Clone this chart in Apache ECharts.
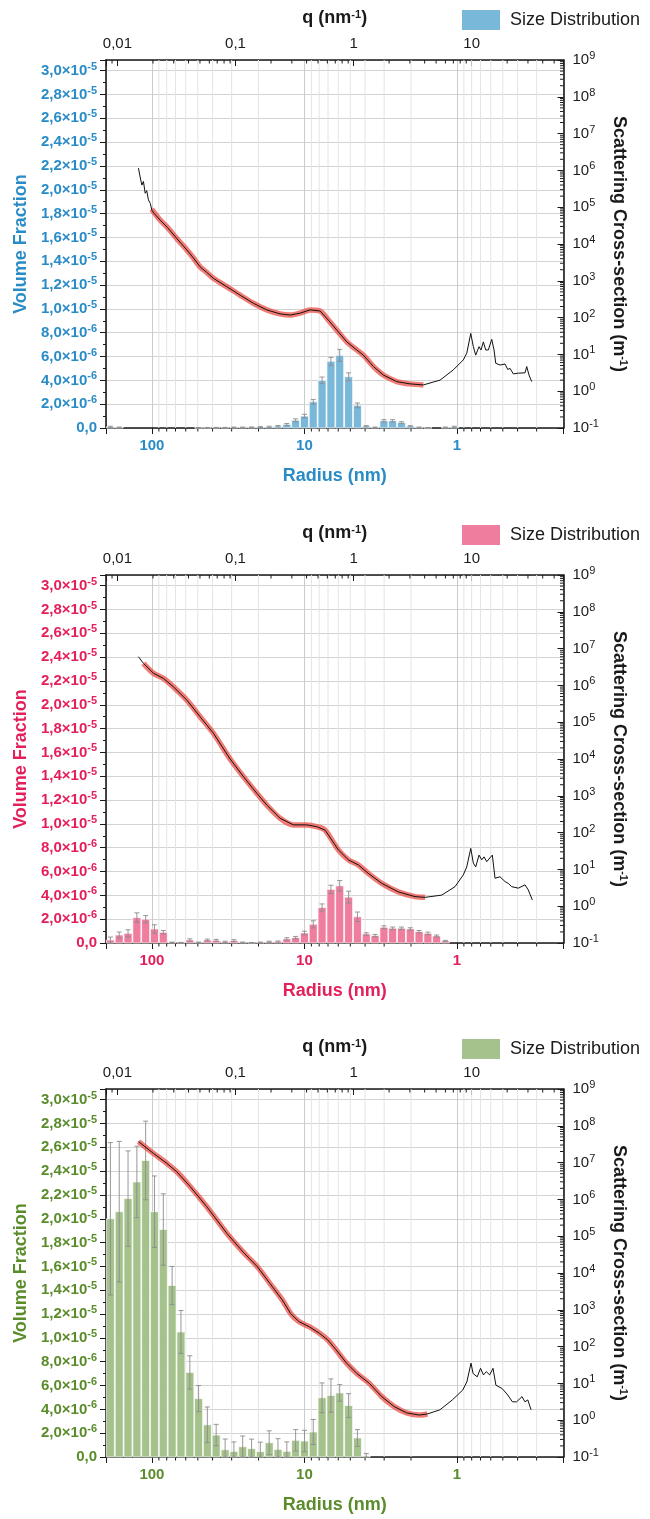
<!DOCTYPE html>
<html><head><meta charset="utf-8">
<script src="https://cdn.jsdelivr.net/npm/echarts@6/dist/echarts.min.js"></script>
<style>html,body{margin:0;padding:0;background:#fff}#chart{width:650px;height:1519px}</style>
</head><body><div id="chart"></div>
<script>
// ================= DATA =================
// Size-distribution bins (radius, nm) – log-spaced bin centres
const radiusBins = [187.1,163.8,143.4,125.5,109.9,96.2,84.2,73.7,64.5,56.4,49.4,43.3,37.9,33.1,29.0,25.4,22.2,19.45,17.02,14.90,13.04,11.42,9.99,8.75,7.66,6.70,5.87,5.13,4.49,3.93,3.44,3.01,2.64,2.31,2.02,1.77,1.55,1.36,1.19,1.04,0.909,0.796,0.697,0.610,0.534,0.467,0.409,0.358,0.313,0.274,0.240,0.210];

// Volume fractions (in units of 1e-6) and their errors
const volFrac1 = [0.10,0.05,0,0,0,0,0,0,0,0, 0.02,0.02,0.03,0.03,0.05,0.05,0.06,0.08,0.10,0.15, 0.30,0.65,1.00,2.20,4.00,5.60,6.10,4.30,1.90,0.15, 0.05,0.60,0.60,0.45,0.15,0.05,0.02,0,0.05,0.10, 0,0,0,0,0,0,0,0,0,0, 0,0];
const volErr1  = [0.05,0.03,0,0,0,0,0,0,0,0, 0.02,0.02,0.02,0.02,0.03,0.03,0.03,0.04,0.05,0.06, 0.08,0.12,0.15,0.20,0.28,0.33,0.50,0.33,0.20,0.05, 0.03,0.10,0.10,0.08,0.05,0.03,0.02,0,0.03,0.05, 0,0,0,0,0,0,0,0,0,0, 0,0];
const volFrac2 = [0.25,0.67,0.81,2.13,2.00,1.18,0.90,0.05,0.03,0.25, 0.05,0.25,0.22,0.10,0.20,0.05,0.02,0.05,0.10,0.12, 0.34,0.45,0.84,1.57,2.98,4.50,4.80,3.85,2.20,0.76, 0.62,1.32,1.24,1.24,1.18,0.95,0.81,0.59,0.17,0, 0,0,0,0,0,0,0,0,0,0, 0,0];
const volErr2  = [0.25,0.25,0.30,0.40,0.30,0.35,0.15,0.03,0.02,0.10, 0.03,0.08,0.08,0.05,0.08,0.03,0.02,0.03,0.05,0.05, 0.10,0.10,0.15,0.30,0.30,0.35,0.45,0.50,0.40,0.10, 0.10,0.12,0.10,0.10,0.10,0.10,0.10,0.08,0.05,0, 0,0,0,0,0,0,0,0,0,0, 0,0];
const volFrac3 = [20.0,20.6,21.7,23.1,24.9,20.6,19.1,14.4,10.5,7.1, 4.9,2.7,1.84,0.61,0.47,0.86,0.70,0.45,1.20,0.64, 0.47,1.40,1.34,2.10,4.97,5.16,5.38,4.32,1.60,0.05, 0,0,0,0,0,0,0,0,0,0, 0,0,0,0,0,0,0,0,0,0, 0,0];
const volErr3  = [6.4,5.9,4.0,3.0,3.3,3.0,3.0,1.6,1.8,1.4, 1.1,1.5,0.9,0.9,0.8,0.9,0.8,0.8,1.0,0.9, 0.8,0.9,0.9,1.05,1.25,1.4,0.7,1.0,0.7,0.25, 0,0,0,0,0,0,0,0,0,0, 0,0,0,0,0,0,0,0,0,0, 0,0];

// Scattering curves: q (nm^-1) and cross-section (m^-1)
const qData1 = [0.01507,0.0155,0.0161,0.0166,0.01718,0.0177,0.0183,0.0190,0.01955,0.02046,0.0230,0.0265,0.0320,0.0387,0.0440,0.0501,0.0570,0.065,0.0844,0.1094,0.1418,0.1839,0.2386,0.2899,0.3522,0.4281,0.5207,0.6124,0.7216,0.8757,1.064,1.211,1.472,1.788,2.322,3.008,3.899,5.40,7.00,8.50,9.09,9.83,10.34,10.83,11.55,12.01,12.57,13.17,13.85,14.80,15.48,16.00,17.40,19.18,20.22,21.14,22.55,24.86,28.33,29.28,30.62,32.28];
const iData1 = [1.15e6,7.08e5,3.98e5,5.01e5,2.40e5,2.82e5,1.58e5,1.26e5,8.32e4,6.76e4,4.47e4,2.82e4,1.38e4,6.92e3,4.17e3,2.40e3,1.70e3,1.17e3,692,407,245,162,126,117,132,162,151,85.1,45.7,21.9,13.2,9.55,4.68,2.75,1.82,1.58,1.48,2.00,3.80,7.08,10.7,37.2,16.2,9.55,16.2,13.2,21.9,13.2,13.2,25.7,13.2,5.75,5.13,5.50,3.89,4.17,2.95,3.09,3.16,4.68,2.75,1.82];
const qFit1 = [0.0195,0.0230,0.0265,0.0320,0.0387,0.0440,0.0501,0.0570,0.065,0.0844,0.1094,0.1418,0.1839,0.2386,0.2899,0.3522,0.4281,0.5207,0.6124,0.7216,0.8757,1.064,1.211,1.472,1.788,2.322,3.008,3.899];
const iFit1 = [8.91e4,4.47e4,2.82e4,1.38e4,6.92e3,4.17e3,2.40e3,1.70e3,1.17e3,692,407,245,162,126,117,132,162,151,85.1,45.7,21.9,13.2,9.55,4.68,2.75,1.82,1.58,1.48];

const qData2 = [0.01507,0.0166,0.02018,0.02452,0.02979,0.03873,0.0501,0.065,0.090,0.1167,0.1515,0.1839,0.2386,0.3093,0.4015,0.488,0.5736,0.7435,0.9038,1.098,1.335,1.733,2.395,3.317,4.03,5.58,7.23,8.50,9.09,9.83,10.34,10.83,11.55,12.18,12.74,13.42,14.97,15.78,17.40,19.18,20.45,21.85,24.86,28.33,30.21,32.66];
const iData2 = [6.03e6,3.98e6,2.14e6,1.55e6,9.12e5,3.98e5,1.41e5,5.01e4,1.0e4,3.31e3,1.17e3,562,245,162,162,145,117,33.9,18.2,13.2,7.76,4.17,2.45,1.82,1.74,2.00,3.39,7.08,11.7,37.2,14.8,11.7,24.5,18.2,21.9,16.2,24.5,5.75,6.31,4.68,4.17,3.39,3.09,3.80,2.75,1.48];
const qFit2 = [0.0166,0.02018,0.02452,0.02979,0.03873,0.0501,0.065,0.090,0.1167,0.1515,0.1839,0.2386,0.3093,0.4015,0.488,0.5736,0.7435,0.9038,1.098,1.335,1.733,2.395,3.317,4.03];
const iFit2 = [3.98e6,2.14e6,1.55e6,9.12e5,3.98e5,1.41e5,5.01e4,1.0e4,3.31e3,1.17e3,562,245,162,162,145,117,33.9,18.2,13.2,7.76,4.17,2.45,1.82,1.74];

const qData3 = [0.01507,0.02018,0.0262,0.03184,0.04126,0.05715,0.0844,0.1167,0.1532,0.1952,0.2489,0.2928,0.3441,0.4207,0.5153,0.6058,0.7122,0.8724,1.067,1.361,1.733,2.211,2.816,3.594,4.225,5.381,6.865,8.408,9.109,9.885,10.28,11.15,11.90,12.59,13.32,14.21,15.18,16.06,18.13,19.94,22.16,24.04,26.72,28.28,29.92,31.90];
const iData3 = [3.72e7,1.78e7,9.55e6,5.62e6,2.24e6,6.31e5,1.20e5,3.63e4,1.48e4,5.25e3,1.86e3,794,479,347,229,151,81.3,35.5,18.6,10.0,4.37,2.34,1.58,1.38,1.48,1.91,3.55,6.61,11.0,35.5,18.6,15.1,25.7,17.0,20.9,17.0,25.7,8.91,7.24,5.13,3.16,3.16,4.37,3.16,3.55,1.91];
const qFit3 = [0.01507,0.02018,0.0262,0.03184,0.04126,0.05715,0.0844,0.1167,0.1532,0.1952,0.2489,0.2928,0.3441,0.4207,0.5153,0.6058,0.7122,0.8724,1.067,1.361,1.733,2.211,2.816,3.594,4.225];
const iFit3 = [3.72e7,1.78e7,9.55e6,5.62e6,2.24e6,6.31e5,1.20e5,3.63e4,1.48e4,5.25e3,1.86e3,794,479,347,229,151,81.3,35.5,18.6,10.0,4.37,2.34,1.58,1.38,1.48];

// Tick label texts
const qTickLabels = {'-2':'0,01','-1':'0,1','0':'1','1':'10'};
const radiusTickLabels = {'0':'1','1':'10','2':'100'};

// ================= STYLE / LAYOUT =================
const FONT = '"Liberation Sans", Arial, Helvetica, sans-serif';
const PANEL_TOPS = [60, 575, 1089];
const PLOT_H = 368;
const BIN_EDGE_FACTOR = 1.0688;  // half bin width as a ratio (log-spaced bins)
const VF_UNIT = 1e-6;
const AX = '#1a1a1a';
const panels = [
  {text:'#2a8cc6', bar:'#7ab8d9', vol:volFrac1, err:volErr1, qd:qData1, id:iData1, qf:qFit1, ifit:iFit1},
  {text:'#e3205a', bar:'#ee7d9e', vol:volFrac2, err:volErr2, qd:qData2, id:iData2, qf:qFit2, ifit:iFit2},
  {text:'#5a8c2b', bar:'#a5c28c', vol:volFrac3, err:volErr3, qd:qData3, id:iData3, qf:qFit3, ifit:iFit3}
];

const DIGITS = [2,3,4,5,6,7,8,9];
function minorTicks(lo, hi, e0, e1){
  const out=[];
  for(let e=e0;e<=e1;e++) for(const d of DIGITS){
    const v=+(d*Math.pow(10,e)).toPrecision(6);
    if(v>lo*1.0001 && v<hi*0.9999) out.push(v);
  }
  return out;
}
const radiusMinor = minorTicks(0.2, 200, -1, 2);
const qMinor = minorTicks(0.008, 60, -3, 1);
const iMinor = minorTicks(0.1, 1e9, -1, 8);

// ================= FORMATTERS =================
function isDecade(v){ const l=Math.log10(v); return Math.abs(l-Math.round(l))<1e-6; }
function radiusLabel(v){ return isDecade(v) ? (radiusTickLabels[String(Math.round(Math.log10(v)))]||'') : ''; }
function qLabel(v){ return isDecade(v) ? (qTickLabels[String(Math.round(Math.log10(v)))]||'') : ''; }
function iLabel(v){ const r=Math.round(Math.log10(v)); return '{b|10}{s|'+r+'}'; }
function vfLabel(v){
  if (v < 1e-12) return '{m|0,0}';
  if (v > 3.0001e-5) return '';
  const e=Math.floor(Math.log10(v)+1e-6);
  const m=v/Math.pow(10,e);
  return '{m|'+m.toFixed(1).replace('.',',')+'×10}{s|'+e+'}';
}

// ================= RENDERERS =================
function radiusMinorRender(params, api){
  const cs=params.coordSys;
  const x=api.coord([api.value(0), api.value(1)])[0];
  const b=cs.y+cs.height;
  return {type:'group', children:[
    {type:'line', shape:{x1:x,y1:cs.y,x2:x,y2:b}, style:{stroke:'#e4e4e4', lineWidth:1}},
    {type:'line', shape:{x1:x,y1:b,x2:x,y2:b+3.5}, style:{stroke:AX, lineWidth:1}}
  ]};
}
function qMinorRender(params, api){
  const cs=params.coordSys;
  const x=api.coord([api.value(0), api.value(1)])[0];
  return {type:'line', shape:{x1:x,y1:cs.y,x2:x,y2:cs.y+3.5}, style:{stroke:AX, lineWidth:1}};
}
function iMinorRender(params, api){
  const cs=params.coordSys;
  const y=api.coord([api.value(0), api.value(1)])[1];
  const xr=cs.x+cs.width;
  return {type:'line', shape:{x1:xr-3.5,y1:y,x2:xr,y2:y}, style:{stroke:AX, lineWidth:1}};
}
function makeBarRender(fill){
  return function(params, api){
    const r=api.value(0), v=api.value(1), e=api.value(2);
    if(!(v>0)) return null;
    const p0=api.coord([r*BIN_EDGE_FACTOR, 0]);
    const p1=api.coord([r/BIN_EDGE_FACTOR, v]);
    const x0=Math.min(p0[0],p1[0]), w=Math.abs(p1[0]-p0[0]);
    const children=[{type:'rect', shape:{x:x0+0.4, y:p1[1], width:w-0.8, height:Math.max(0.3,p0[1]-p1[1])},
      style:{fill:fill, stroke:'rgba(255,255,255,0.85)', lineWidth:0.8}}];
    if(e>0){
      const cx=(p0[0]+p1[0])/2;
      const yt=api.coord([r, v+e])[1], yb=api.coord([r, Math.max(v-e,0)])[1];
      const st={stroke:'#8c8c8c', lineWidth:0.9};
      children.push({type:'line', shape:{x1:cx,y1:yt,x2:cx,y2:yb}, style:st});
      children.push({type:'line', shape:{x1:cx-2.5,y1:yt,x2:cx+2.5,y2:yt}, style:st});
      children.push({type:'line', shape:{x1:cx-2.5,y1:yb,x2:cx+2.5,y2:yb}, style:st});
    }
    return {type:'group', children};
  };
}
function zip(a,b){ return a.map((x,i)=>[x,b[i]]); }

// ================= OPTION =================
const grid=[], xAxis=[], yAxis=[], series=[], legend=[];
panels.forEach((p,k)=>{
  const T=PANEL_TOPS[k];
  grid.push({left:106, right:86.5, top:T, height:PLOT_H});
  const line={show:true, onZero:false, lineStyle:{color:AX, width:1.6}};
  // radius (bottom)
  xAxis.push({type:'log', gridIndex:k, position:'bottom', inverse:true, min:0.2, max:200, logBase:10,
    axisLine:line, axisTick:{show:true, inside:false, length:6, lineStyle:{color:AX, width:1}},
    axisLabel:{margin:10, formatter:radiusLabel, color:p.text, fontSize:15, fontWeight:'bold', fontFamily:FONT},
    splitLine:{show:true, lineStyle:{color:'#cbcbcb', width:1}},
    name:'Radius (nm)', nameLocation:'middle', nameGap:39,
    nameTextStyle:{color:p.text, fontSize:18, fontWeight:'bold', fontFamily:FONT}});
  // q (top)
  xAxis.push({type:'log', gridIndex:k, position:'top', min:0.008, max:60, logBase:10,
    axisLine:line, axisTick:{show:true, inside:true, length:6, lineStyle:{color:AX, width:1}},
    axisLabel:{margin:9, formatter:qLabel, color:AX, fontSize:15, fontFamily:FONT},
    splitLine:{show:false},
    name:'{b|q (nm}{s|-1}{b|)}', nameLocation:'middle', nameGap:32,
    nameTextStyle:{rich:{b:{fontSize:18, fontWeight:'bold', color:AX, fontFamily:FONT},
                         s:{fontSize:11, fontWeight:'bold', color:AX, fontFamily:FONT, padding:[0,0,8,0]}}}});
  // volume fraction (left)
  yAxis.push({type:'value', gridIndex:k, position:'left', min:0, max:3.09e-5, interval:2e-6,
    axisLine:line, axisTick:{show:true, inside:false, length:6, lineStyle:{color:AX, width:1}},
    minorTick:{show:true, splitNumber:2, length:3, lineStyle:{color:AX, width:1}},
    minorSplitLine:{show:false},
    axisLabel:{margin:9, formatter:vfLabel, rich:{
      m:{fontSize:15, fontWeight:'bold', color:p.text, fontFamily:FONT},
      s:{fontSize:11, fontWeight:'bold', color:p.text, fontFamily:FONT, padding:[0,0,8,0]}}},
    splitLine:{show:true, lineStyle:{color:'#d3d3d3', width:1}},
    name:'Volume Fraction', nameLocation:'middle', nameGap:74, nameRotate:90,
    nameTextStyle:{color:p.text, fontSize:18, fontWeight:'bold', fontFamily:FONT}});
  // cross-section (right)
  yAxis.push({type:'log', gridIndex:k, position:'right', min:0.1, max:9.999e8, logBase:10, splitNumber:10,
    axisLine:line, axisTick:{show:true, inside:true, length:6, lineStyle:{color:AX, width:1}},
    axisLabel:{margin:9, formatter:iLabel, rich:{
      b:{fontSize:15, color:AX, fontFamily:FONT},
      s:{fontSize:11, color:AX, fontFamily:FONT, padding:[0,0,8,0]}}},
    splitLine:{show:false},
    name:'{b|Scattering Cross-section (m}{s|-1}{b|)}', nameLocation:'middle', nameGap:40, nameRotate:-90,
    nameTextStyle:{rich:{b:{fontSize:18, fontWeight:'bold', color:AX, fontFamily:FONT},
                         s:{fontSize:11, fontWeight:'bold', color:AX, fontFamily:FONT, padding:[0,0,8,0]}}}});

  const xr=2*k, xq=2*k+1, yl=2*k, yr=2*k+1;
  series.push({type:'custom', xAxisIndex:xr, yAxisIndex:yl, renderItem:radiusMinorRender,
    data:radiusMinor.map(v=>[v,0]), silent:true, z:1});
  series.push({type:'custom', xAxisIndex:xq, yAxisIndex:yr, renderItem:qMinorRender,
    data:qMinor.map(v=>[v,1]), silent:true, z:5});
  series.push({type:'custom', xAxisIndex:xq, yAxisIndex:yr, renderItem:iMinorRender,
    data:iMinor.map(v=>[1,v]), silent:true, z:5});
  series.push({type:'custom', name:'sd'+k, xAxisIndex:xr, yAxisIndex:yl, renderItem:makeBarRender(p.bar),
    itemStyle:{color:p.bar}, encode:{x:0, y:1},
    data:radiusBins.map((r,i)=>[r, p.vol[i]*VF_UNIT, p.err[i]*VF_UNIT]), z:2});
  series.push({type:'line', xAxisIndex:xq, yAxisIndex:yr, data:zip(p.qf,p.ifit), showSymbol:false, smooth:0.3,
    lineStyle:{color:'rgba(236,74,64,0.72)', width:5.5}, z:3, silent:true});
  series.push({type:'line', xAxisIndex:xq, yAxisIndex:yr, data:zip(p.qd,p.id), showSymbol:false,
    lineStyle:{color:'#111', width:1}, z:4, silent:true});

  legend.push({data:['sd'+k], top:T-50, left:462, itemWidth:38, itemHeight:20, icon:'rect', selectedMode:false,
    formatter:()=> 'Size Distribution', padding:0, itemGap:0,
    textStyle:{fontSize:18, color:AX, fontFamily:FONT, padding:[0,0,0,5]}});
});

const chart=echarts.init(document.getElementById('chart'), null, {renderer:'canvas'});
chart.setOption({animation:false, backgroundColor:'#fff', textStyle:{fontFamily:FONT},
  grid, xAxis, yAxis, series, legend});
</script></body></html>
